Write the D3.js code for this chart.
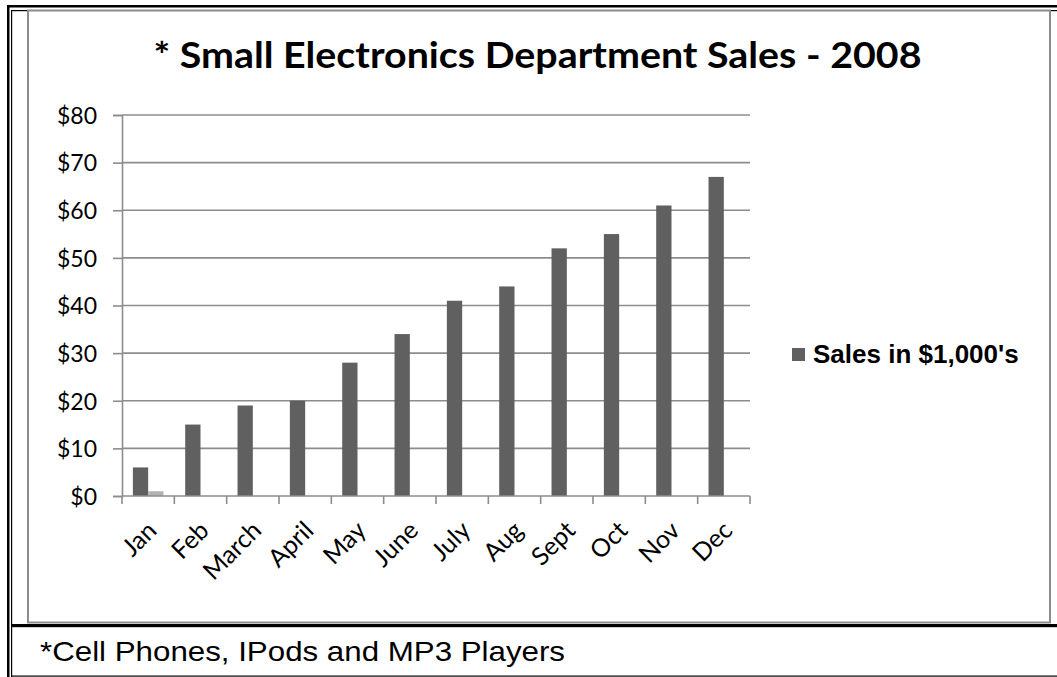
<!DOCTYPE html>
<html>
<head>
<meta charset="utf-8">
<script src="https://cdn.jsdelivr.net/npm/d3@7"></script>
<style>
  html, body { margin: 0; padding: 0; background: #fff; }
  svg { display: block; }
</style>
</head>
<body>
<svg id="chart" width="1057" height="677"></svg>
<script>
const months = ["Jan","Feb","March","April","May","June","July","Aug","Sept","Oct","Nov","Dec"];
const sales = [6,15,19,20,28,34,41,44,52,55,61,67];
const other = [1,0,0,0,0,0,0,0,0,0,0,0];
const yTicks = [0,10,20,30,40,50,60,70,80];
const titleText = "* Small Electronics Department Sales - 2008";
const legendText = "Sales in $1,000's";
const footerText = "*Cell Phones, IPods and MP3 Players";

const svg = d3.select("#chart");
const W = 1057, H = 677;

// outer frame lines
const frame = svg.append("g");
frame.append("rect").attr("x", 7).attr("y", 5).attr("width", W - 7).attr("height", 2.5).attr("fill", "#000");
frame.append("rect").attr("x", 7).attr("y", 5).attr("width", 2.5).attr("height", H - 5).attr("fill", "#000");
frame.append("rect").attr("x", 11).attr("y", 10).attr("width", W - 11).attr("height", 1.2).attr("fill", "#000");
frame.append("rect").attr("x", 11).attr("y", 10).attr("width", 1.2).attr("height", H - 10).attr("fill", "#000");
frame.append("rect").attr("x", 11).attr("y", 675.5).attr("width", W - 11).attr("height", 1.2).attr("fill", "#000");
// chart area gray border
frame.append("rect").attr("x", 28).attr("y", 10.5).attr("width", 1022).attr("height", 612)
  .attr("fill", "#fff").attr("stroke", "#8c8c8c").attr("stroke-width", 2);
// thick separator
frame.append("rect").attr("x", 11).attr("y", 624).attr("width", W - 11).attr("height", 3.2).attr("fill", "#000");

// scales
const x0 = d3.scaleBand().domain(months).range([122, 750]).padding(0);
const x1 = d3.scaleBand().domain(["sales","other"]).range([0, x0.bandwidth()]).paddingInner(0).paddingOuter(0.71);
const y = d3.scaleLinear().domain([0, 80]).range([496, 115]);

const gridColor = "#8c8c8c";
const axisFont = "Lato, 'Open Sans', sans-serif";

// y axis + ticks
const yAxis = d3.axisLeft(y).tickValues(yTicks).tickSize(9).tickFormat(d => "$" + d);
const gy = svg.append("g").attr("transform", "translate(122,0)").call(yAxis);
gy.select(".domain").attr("stroke", gridColor).attr("stroke-width", 1.6);
gy.selectAll(".tick line").attr("stroke", gridColor).attr("stroke-width", 1.6);
gy.selectAll(".tick text").attr("x", -25).attr("dy", "0.36em")
  .attr("font-family", axisFont).attr("font-size", 23).attr("fill", "#000");

// gridlines
svg.append("g").selectAll("line").data(yTicks.filter(d => d > 0)).join("line")
  .attr("x1", 122).attr("x2", 750)
  .attr("y1", d => y(d)).attr("y2", d => y(d))
  .attr("stroke", gridColor).attr("stroke-width", 1.6);

// bars
const gBars = svg.append("g");
gBars.selectAll("rect.s").data(months).join("rect")
  .attr("class", "s")
  .attr("x", (m) => x0(m) + x1("sales"))
  .attr("width", x1.bandwidth())
  .attr("y", (m, i) => y(sales[i]))
  .attr("height", (m, i) => y(0) - y(sales[i]))
  .attr("fill", "#606060");
gBars.selectAll("rect.o").data(months).join("rect")
  .attr("class", "o")
  .attr("x", (m) => x0(m) + x1("other"))
  .attr("width", x1.bandwidth())
  .attr("y", (m, i) => y(other[i]))
  .attr("height", (m, i) => y(0) - y(other[i]))
  .attr("fill", "#b3b3b3");

// x axis
const tickPos = months.map(m => x0(m)).concat([x0.range()[1]]);
const gx = svg.append("g");
gx.append("line").attr("x1", 122).attr("x2", 750).attr("y1", y(0)).attr("y2", y(0))
  .attr("stroke", gridColor).attr("stroke-width", 1.6);
gx.selectAll("line.t").data(tickPos).join("line").attr("class", "t")
  .attr("x1", d => d).attr("x2", d => d).attr("y1", y(0)).attr("y2", y(0) + 8)
  .attr("stroke", gridColor).attr("stroke-width", 1.6);
gx.selectAll("text").data(months).join("text")
  .attr("text-anchor", "end")
  .attr("transform", m => `translate(${x0(m) + x0.bandwidth() / 2 + 10},${532}) rotate(-45)`)
  .attr("font-family", axisFont).attr("font-size", 25).attr("fill", "#000")
  .text(m => m);

// title
svg.append("text").attr("x", 537.5).attr("y", 68).attr("text-anchor", "middle")
  .attr("font-family", axisFont).attr("font-weight", "bold")
  .attr("font-size", 37).attr("fill", "#000")
  .attr("textLength", 768).attr("lengthAdjust", "spacingAndGlyphs")
  .text(titleText);

// legend
svg.append("rect").attr("x", 792).attr("y", 348).attr("width", 13).attr("height", 13).attr("fill", "#606060");
svg.append("text").attr("x", 813).attr("y", 363)
  .attr("font-family", "'Liberation Sans', Arial, sans-serif").attr("font-weight", "bold")
  .attr("font-size", 26).attr("fill", "#000").text(legendText);

// footer
svg.append("text").attr("x", 40).attr("y", 661)
  .attr("font-family", "'Liberation Sans', Arial, sans-serif")
  .attr("font-size", 28).attr("fill", "#000")
  .attr("textLength", 525).attr("lengthAdjust", "spacingAndGlyphs")
  .text(footerText);
</script>
</body>
</html>
